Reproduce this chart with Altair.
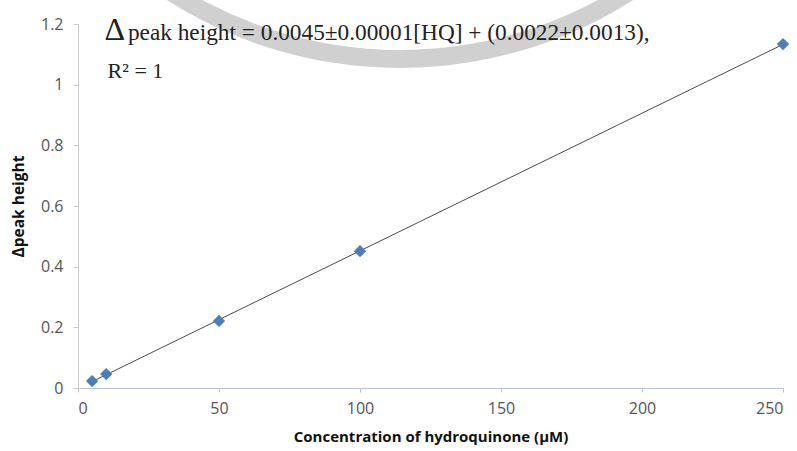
import altair as alt
import pandas as pd

# Calibration data: hydroquinone concentration (µM) vs. change in peak height
concentration = [5, 10, 50, 100, 250]
delta_peak = [0.023, 0.046, 0.221, 0.451, 1.134]

x_ticks = [0, 50, 100, 150, 200, 250]
y_ticks = [0, 0.2, 0.4, 0.6, 0.8, 1.0, 1.2]

df = pd.DataFrame({"conc": concentration, "dph": delta_peak})

W, H = 705, 364

x_scale = alt.Scale(domain=[0, 250], nice=False, zero=True)
y_scale = alt.Scale(domain=[0, 1.2], nice=False)

x_axis = alt.Axis(
    values=x_ticks, grid=False, title="Concentration of hydroquinone (µM)",
    titleFont="Open Sans", titleFontSize=15, titleFontWeight="bold", titleColor="#111111",
    titlePadding=13, labelFont="Open Sans", labelFontSize=16, labelColor="#555555",
    labelPadding=8, domainColor="#B7C3D3", tickColor="#B7C3D3", tickSize=4,
)
y_axis = alt.Axis(
    values=y_ticks, grid=False, title="Δpeak height", format="~g",
    titleFont="Open Sans", titleFontSize=15.5, titleFontWeight="bold", titleColor="#111111",
    titlePadding=14, labelFont="Open Sans", labelFontSize=16, labelColor="#555555",
    labelPadding=10, domainColor="#C8CCD2", tickColor="#C8CCD2", tickSize=5,
)

base = alt.Chart(df).encode(
    x=alt.X("conc:Q", scale=x_scale, axis=x_axis),
    y=alt.Y("dph:Q", scale=y_scale, axis=y_axis),
)

# Linear least-squares trend line across the measured range
trend = base.transform_regression("conc", "dph", method="linear").mark_line(
    color="#4A4A4A", strokeWidth=1
)

points = base.mark_point(
    shape="diamond", filled=True, size=150, color="#4A7EBB", opacity=1
)

# Faint ring watermark behind the chart
ring = alt.Chart(pd.DataFrame({"k": [0]})).mark_arc(
    theta=2.50, theta2=3.78, radius=434, radius2=416, color="#D0D0D0", opacity=1
).encode(x=alt.value(322), y=alt.value(-390))

eq_df = pd.DataFrame({
    "x": [9.4, 17.7, 10.5],
    "y": [1.148, 1.148, 1.022],
    "t": ["Δ", "peak height  = 0.0045±0.00001[HQ] + (0.0022±0.0013),", "R² = 1"],
    "s": [32, 23.3, 22],
})
equation = alt.Chart(eq_df).mark_text(
    font="Liberation Serif", align="left", baseline="alphabetic", color="#222222"
).encode(
    x=alt.X("x:Q", scale=x_scale),
    y=alt.Y("y:Q", scale=y_scale),
    text="t:N",
    size=alt.Size("s:Q", scale=None, legend=None),
)

chart = alt.layer(ring, trend, points, equation).properties(
    width=W, height=H,
    autosize=alt.AutoSizeParams(type="none"),
    padding={"left": 78, "top": 24, "right": 14, "bottom": 63},
    background="white",
).configure_view(stroke=None)

chart.save("out.html", embed_options={"renderer": "svg", "actions": False})
